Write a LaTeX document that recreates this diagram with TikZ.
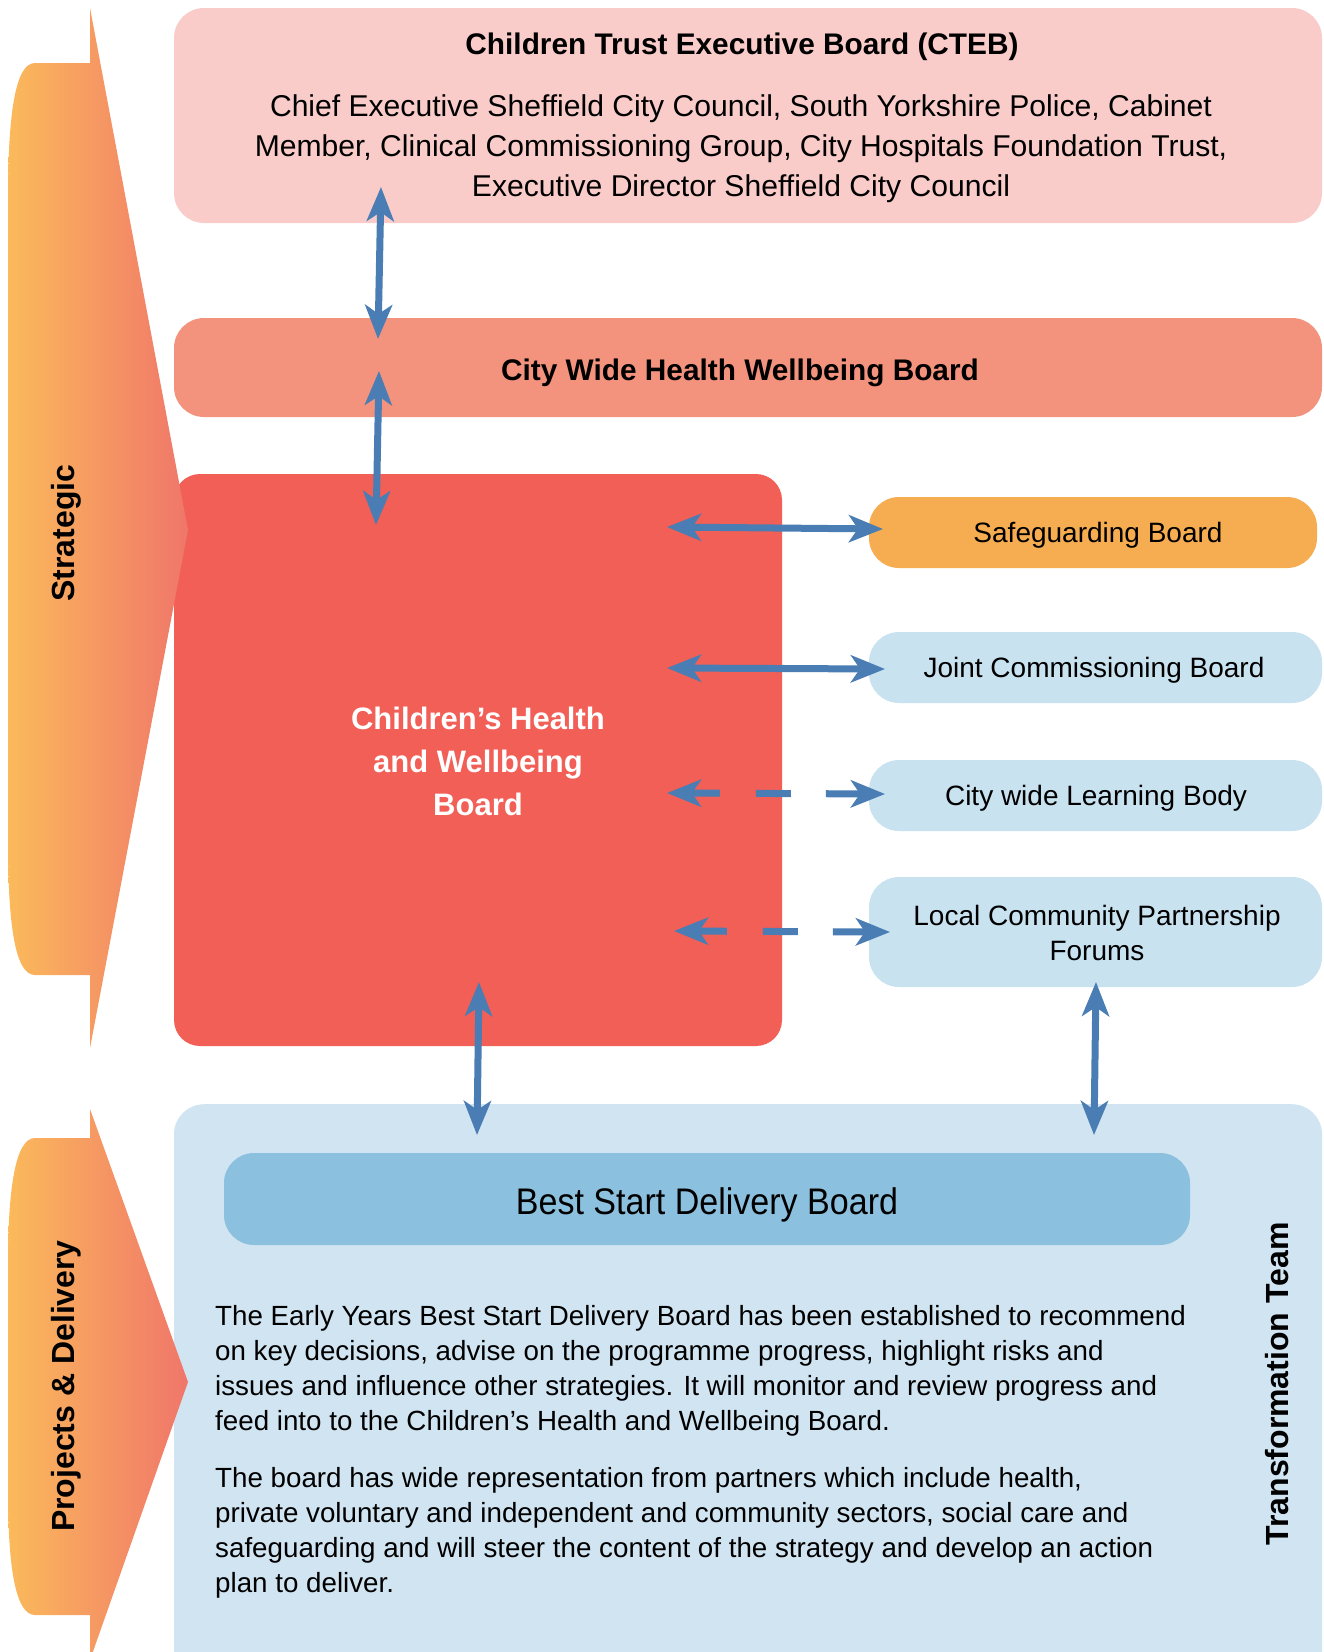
\documentclass[tikz,border=0pt]{standalone}
\usepackage{fontspec}
\setmainfont{Liberation Sans}
\newfontfamily\narrowfont[FakeStretch=0.92]{Liberation Sans}
\usetikzlibrary{arrows.meta,calc}
\definecolor{ctebc}{HTML}{F9CCCA}
\definecolor{cityc}{HTML}{F3937D}
\definecolor{chwbc}{HTML}{F15F57}
\definecolor{safec}{HTML}{F6AC50}
\definecolor{lbluec}{HTML}{C9E2F0}
\definecolor{delivc}{HTML}{D1E4F2}
\definecolor{bestc}{HTML}{8BC0DE}
\definecolor{arrowc}{HTML}{4A7DB3}
\definecolor{gradl}{HTML}{FBBA5B}
\definecolor{gradr}{HTML}{F0766A}
\tikzset{
  box/.style={rectangle, rounded corners=30pt, inner sep=0pt, draw=none},
  titlefont/.style={font=\fontsize{29.8}{40}\selectfont\bfseries},
  bodyfont/.style={font=\fontsize{30.1}{40}\selectfont},
  sidefont/.style={font=\fontsize{28}{35}\selectfont},
  parafont/.style={font=\fontsize{27.75}{35}\selectfont},
  vertfont/.style={font=\fontsize{32}{36}\selectfont\bfseries},
  conn/.style={draw=arrowc, line width=7pt, {Stealth[length=34pt,width=27pt,inset=9pt]}-{Stealth[length=34pt,width=27pt,inset=9pt]}},
  dconn/.style={conn, dash pattern=on 30pt off 36pt on 35pt off 35pt on 200pt}
}
\begin{document}
\begin{tikzpicture}[x=1pt,y=-1pt]
\useasboundingbox (0,0) rectangle (1323,1652);

% boxes
\node[box, fill=ctebc, minimum width=1148pt, minimum height=215pt] (cteb) at (748,115.5) {};
\node[titlefont] (ctebt) at (742,47) {Children Trust Executive Board (CTEB)};
\node[bodyfont, align=center] (ctebb) at (741,149) {Chief Executive Sheffield City Council, South Yorkshire Police, Cabinet\\Member, Clinical Commissioning Group, City Hospitals Foundation Trust,\\Executive Director Sheffield City Council};

\node[box, fill=cityc, minimum width=1148pt, minimum height=99pt] (city) at (748,367.5) {};
\node[titlefont] (cityt) at (740,373) {City Wide Health Wellbeing Board};

\node[box, rounded corners=26pt, fill=chwbc, minimum width=608pt, minimum height=572pt] (chwb) at (478,760) {};
\node[align=center, text=white, font=\fontsize{31}{43}\selectfont\bfseries] (chwbt) at (478,761) {Children’s Health\\and Wellbeing\\Board};

\node[box, fill=safec, minimum width=448pt, minimum height=71pt] (safe) at (1093,532.5) {};
\node[sidefont] (safet) at (1098,535) {Safeguarding Board};
\node[box, fill=lbluec, minimum width=453pt, minimum height=71pt] (joint) at (1095.5,667.5) {};
\node[sidefont] (jointt) at (1094,670) {Joint Commissioning Board};
\node[box, fill=lbluec, minimum width=453pt, minimum height=71pt] (learn) at (1095.5,795.5) {};
\node[sidefont] (learnt) at (1096,798) {City wide Learning Body};
\node[box, fill=lbluec, minimum width=453pt, minimum height=110pt] (local) at (1095.5,932) {};
\node[sidefont, align=center] (localt) at (1097,933) {Local Community Partnership\\Forums};

\node[box, fill=delivc, minimum width=1148pt, minimum height=620pt, anchor=north] (deliv) at (748,1104) {};
\node[box, fill=bestc, minimum width=966pt, minimum height=92pt] (best) at (707,1199) {};
\node[font=\narrowfont\fontsize{37}{40}\selectfont] (bestt) at (707,1205) {Best Start Delivery Board};

\node[parafont, align=left, anchor=west, inner sep=0pt] (para1) at (215,1371) {The Early Years Best Start Delivery Board has been established to recommend\\on key decisions, advise on the programme progress, highlight risks and\\issues and influence other strategies. It will monitor and review progress and\\feed into to the Children’s Health and Wellbeing Board.};
\node[parafont, align=left, anchor=west, inner sep=0pt] (para2) at (215,1533) {The board has wide representation from partners which include health,\\private voluntary and independent and community sectors, social care and\\safeguarding and will steer the content of the strategy and develop an action\\plan to deliver.};
\node[vertfont, rotate=90] (trans) at (1277,1384) {Transformation Team};

% left gradient arrows (drawn over the boxes)
\shade[left color=gradl, right color=gradr]
  (90,8) -- (188,530) -- (90,1048) -- (90,975) -- (35,975)
  .. controls (15,975) and (8,925) .. (8,840) -- (8,200)
  .. controls (8,115) and (15,63) .. (35,63) -- (90,63) -- cycle;
\node[vertfont, rotate=90] (strat) at (66,533) {Strategic};
\shade[left color=gradl, right color=gradr]
  (90,1109) -- (188,1382) -- (90,1660) -- (90,1615) -- (35,1615)
  .. controls (15,1615) and (8,1565) .. (8,1490) -- (8,1265)
  .. controls (8,1190) and (15,1138) .. (35,1138) -- (90,1138) -- cycle;
\node[vertfont, rotate=90] (proj) at (66,1386) {Projects \& Delivery};

% connector end points
\coordinate (c1) at (381,187);
\coordinate (c2) at (378,339);
\coordinate (c3) at (379,371);
\coordinate (c4) at (376,525);
\coordinate (s1) at (667,527);
\coordinate (s2) at (883,529);
\coordinate (j1) at (667,668);
\coordinate (j2) at (885,669);
\coordinate (l1) at (667,793);
\coordinate (l2) at (885,794);
\coordinate (f1) at (674,931);
\coordinate (f2) at (890,932);
\coordinate (b1) at (479,982);
\coordinate (b2) at (477,1135);
\coordinate (b3) at (1096,982);
\coordinate (b4) at (1094,1135);

\draw[conn] (c1) -- (c2);
\draw[conn] (c3) -- (c4);
\draw[conn] (s1) -- (s2);
\draw[conn] (j1) -- (j2);
\draw[dconn] (l1) -- (l2);
\draw[dconn] (f1) -- (f2);
\draw[conn] (b1) -- (b2);
\draw[conn] (b3) -- (b4);
\end{tikzpicture}
\end{document}
